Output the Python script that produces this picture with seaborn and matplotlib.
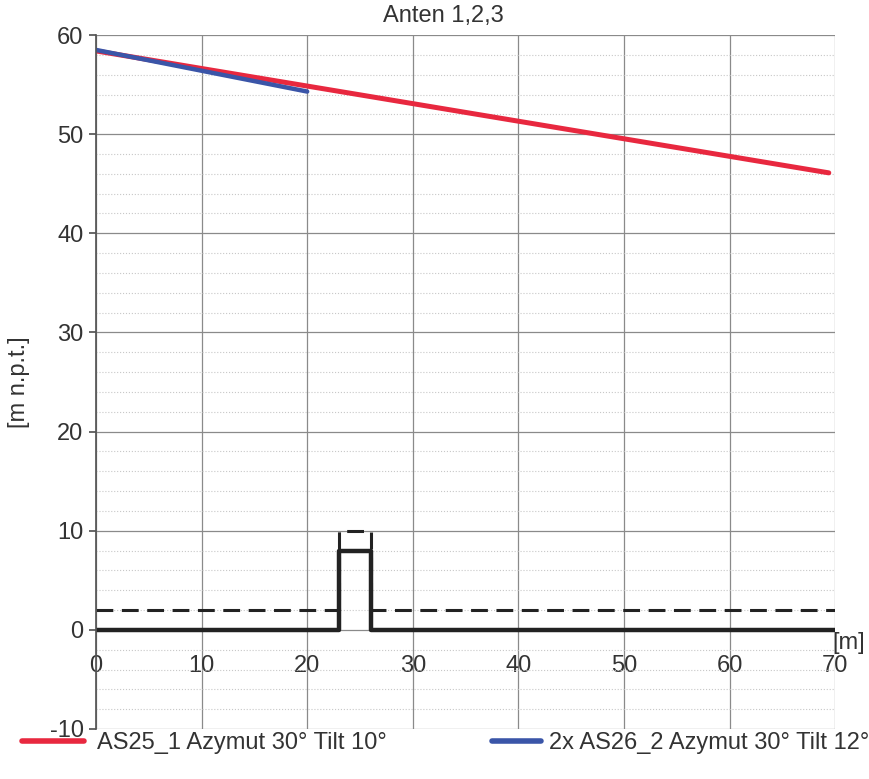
import numpy as np
import pandas as pd
import matplotlib
matplotlib.use("Agg")
import matplotlib.pyplot as plt
from matplotlib.lines import Line2D
from matplotlib.ticker import MultipleLocator
import seaborn as sns

# antenna beam lines
as25_x = [0, 69.4]
as25_y = [58.4, 46.1]
as26_x = [0, 20]
as26_y = [58.5, 54.3]

# terrain / building profile
ground_x = [0, 23, 23, 26, 26, 70]
ground_y = [0, 0, 8, 8, 0, 0]
# 2 m limit line (dashed)
limit_x = [0, 23, 23, 26, 26, 70]
limit_y = [2, 2, 10, 10, 2, 2]

labels = ["AS25_1 Azymut 30° Tilt 10°", "2x AS26_2 Azymut 30° Tilt 12°"]
colors = ["#e8283f", "#3a55a8"]

sns.set_theme(style="white")
plt.rcParams['font.family'] = ['Liberation Sans', 'DejaVu Sans']
plt.rcParams['axes.unicode_minus'] = False

fs = 17

fig = plt.figure(figsize=(8.69, 7.79), dpi=100)
ax = fig.add_axes([0.1105, 0.0642, 0.8505, 0.8908])

sns.lineplot(x=ground_x, y=ground_y, ax=ax, color="#222222", lw=3.2,
             estimator=None, sort=False)
sns.lineplot(x=limit_x, y=limit_y, ax=ax, color="#222222", lw=2.2,
             estimator=None, sort=False, linestyle=(0, (5.5, 2.8)))
sns.lineplot(x=as25_x, y=as25_y, ax=ax, color=colors[0], lw=3.6,
             estimator=None, sort=False)
sns.lineplot(x=as26_x, y=as26_y, ax=ax, color=colors[1], lw=3.2,
             estimator=None, sort=False)

ax.set_xlim(0, 70)
ax.set_ylim(-10, 60)
ax.xaxis.set_major_locator(MultipleLocator(10))
ax.yaxis.set_major_locator(MultipleLocator(10))
ax.yaxis.set_minor_locator(MultipleLocator(2))
ax.grid(True, which="major", color="#8a8a8a", lw=0.9)
ax.grid(True, which="minor", axis="y", color="#c8c8c8", lw=0.8, linestyle=":")
ax.set_axisbelow(True)

for s in ["top", "right"]:
    ax.spines[s].set_visible(False)
ax.spines["left"].set_color("#555555")
ax.spines["bottom"].set_position(("data", 0))
ax.spines["bottom"].set_visible(False)

ax.tick_params(axis="y", which="major", left=True, length=5, color="#555555",
               labelsize=fs, labelcolor="#333333", pad=4)
ax.tick_params(axis="y", which="minor", left=False)
ax.tick_params(axis="x", bottom=False, labelsize=fs, labelcolor="#333333", pad=12)

ax.set_ylabel("[m n.p.t.]", fontsize=fs, color="#333333", labelpad=14)
ax.set_xlabel("")
ax.text(71.3, -1.3, "[m]", fontsize=fs, color="#333333", ha="center",
        va="center", clip_on=False)
fig.text(0.51, 0.98, "Anten 1,2,3", fontsize=fs, color="#333333",
         ha="center", va="center")

# two separate legend entries, as in the original layout
h1 = Line2D([], [], color=colors[0], lw=4)
h2 = Line2D([], [], color=colors[1], lw=4)
fig.legend([h1], [labels[0]], loc="lower left", bbox_to_anchor=(0.0005, 0.0047),
           frameon=False, fontsize=fs, handlelength=2.63,
           handletextpad=0.55, labelcolor="#333333")
fig.legend([h2], [labels[1]], loc="lower left", bbox_to_anchor=(0.5413, 0.0047),
           frameon=False, fontsize=fs, handlelength=2.1,
           handletextpad=0.35, labelcolor="#333333")

fig.savefig("out.png", dpi=100)
